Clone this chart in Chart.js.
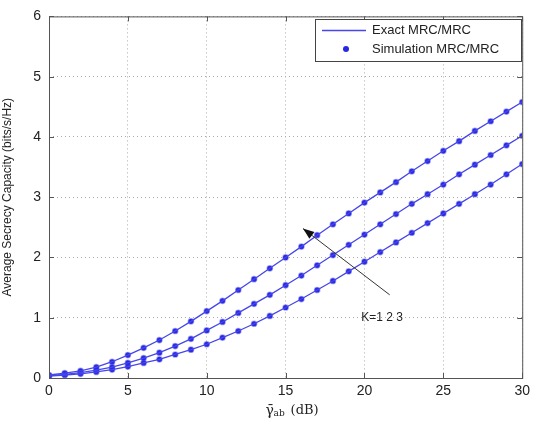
<!DOCTYPE html>
<html>
<head>
<meta charset="utf-8">
<script src="https://cdn.jsdelivr.net/npm/chart.js@4.4.0/dist/chart.umd.min.js"></script>
<style>
  html, body { margin: 0; padding: 0; background: #fff; }
  #wrap { width: 535px; height: 423px; }
</style>
</head>
<body>
<div id="wrap"><canvas id="graph1" width="535" height="423"></canvas></div>
<script>
// x axis: average SNR in dB
const snrDb = [0,1,2,3,4,5,6,7,8,9,10,11,12,13,14,15,16,17,18,19,20,21,22,23,24,25,26,27,28,29,30];

// average secrecy capacity, K = 1, 2, 3
const capK1 = [0.05,0.08,0.12,0.18,0.27,0.38,0.5,0.63,0.78,0.94,1.11,1.28,1.46,1.64,1.82,2.0,2.18,2.37,2.55,2.73,2.91,3.08,3.25,3.43,3.6,3.77,3.93,4.1,4.26,4.42,4.58];
const capK2 = [0.04,0.06,0.09,0.13,0.18,0.25,0.33,0.42,0.53,0.65,0.79,0.93,1.08,1.23,1.38,1.54,1.7,1.87,2.04,2.21,2.38,2.55,2.72,2.89,3.05,3.21,3.38,3.54,3.7,3.86,4.02];
const capK3 = [0.03,0.05,0.07,0.1,0.14,0.19,0.25,0.31,0.39,0.47,0.56,0.67,0.78,0.9,1.03,1.17,1.31,1.46,1.61,1.77,1.93,2.09,2.25,2.41,2.57,2.73,2.89,3.05,3.21,3.38,3.55];

const legendNames = ["Exact MRC/MRC", "Simulation MRC/MRC"];
const xTicks = [0, 5, 10, 15, 20, 25, 30];
const yTicks = [0, 1, 2, 3, 4, 5, 6];

const lineColor = "rgb(70, 70, 235)";
const markColor = "rgb(40, 40, 225)";
const font = "Liberation Sans, Arial, sans-serif";

const pts = (ys) => snrDb.map((x, i) => ({ x, y: ys[i] }));

const exactSet = (ys) => ({
  data: pts(ys),
  borderColor: lineColor,
  borderWidth: 1.3,
  pointRadius: 0,
  fill: false,
  tension: 0,
});
const simSet = (ys) => ({
  data: pts(ys),
  showLine: false,
  pointRadius: 2.6,
  pointStyle: "circle",
  pointBackgroundColor: markColor,
  pointBorderColor: "rgba(60,60,230,0.45)",
  pointBorderWidth: 1.5,
});

// box, inward ticks, legend, arrow, x title
const decorations = {
  id: "decorations",
  afterDraw(chart) {
    const { ctx, chartArea: a, scales } = chart;
    const xs = scales.x, ys = scales.y;
    ctx.save();
    // frame
    ctx.strokeStyle = "#555";
    ctx.lineWidth = 1;
    ctx.strokeRect(a.left + 0.5, a.top + 0.5, a.right - a.left, a.bottom - a.top);
    // inward ticks
    ctx.beginPath();
    xTicks.forEach(v => {
      const p = Math.round(xs.getPixelForValue(v)) + 0.5;
      ctx.moveTo(p, a.bottom); ctx.lineTo(p, a.bottom - 5);
      ctx.moveTo(p, a.top); ctx.lineTo(p, a.top + 5);
    });
    yTicks.forEach(v => {
      const p = Math.round(ys.getPixelForValue(v)) + 0.5;
      ctx.moveTo(a.left, p); ctx.lineTo(a.left + 5, p);
      ctx.moveTo(a.right, p); ctx.lineTo(a.right - 5, p);
    });
    ctx.stroke();

    // legend
    const lx = 315, ly = 19, lw = 206, lh = 42;
    ctx.fillStyle = "#fff";
    ctx.fillRect(lx, ly, lw, lh);
    ctx.strokeStyle = "#444";
    ctx.strokeRect(lx + 0.5, ly + 0.5, lw, lh);
    ctx.strokeStyle = lineColor;
    ctx.lineWidth = 1.3;
    ctx.beginPath(); ctx.moveTo(322, 30.5); ctx.lineTo(366, 30.5); ctx.stroke();
    ctx.fillStyle = markColor;
    ctx.beginPath(); ctx.arc(346, 49, 3, 0, Math.PI * 2); ctx.fill();
    ctx.fillStyle = "#222";
    ctx.font = "13px " + font;
    ctx.textBaseline = "middle";
    ctx.textAlign = "left";
    ctx.fillText(legendNames[0], 372, 30);
    ctx.fillText(legendNames[1], 372, 49);

    // arrow K=1 2 3
    const x0 = xs.getPixelForValue(21.6), y0 = ys.getPixelForValue(1.38);
    const x1 = xs.getPixelForValue(16.1), y1 = ys.getPixelForValue(2.48);
    ctx.strokeStyle = "#333";
    ctx.lineWidth = 1;
    ctx.beginPath(); ctx.moveTo(x0, y0); ctx.lineTo(x1, y1); ctx.stroke();
    const ang = Math.atan2(y1 - y0, x1 - x0);
    ctx.fillStyle = "#111";
    ctx.beginPath();
    ctx.moveTo(x1, y1);
    ctx.lineTo(x1 - 12 * Math.cos(ang - 0.35), y1 - 12 * Math.sin(ang - 0.35));
    ctx.lineTo(x1 - 12 * Math.cos(ang + 0.35), y1 - 12 * Math.sin(ang + 0.35));
    ctx.closePath(); ctx.fill();
    ctx.fillStyle = "#222";
    ctx.font = "12px " + font;
    ctx.textAlign = "left";
    ctx.fillText("K=1 2 3", xs.getPixelForValue(19.8), ys.getPixelForValue(1.0));

    // x axis title: gamma-bar with subscript ab
    const cx = (a.left + a.right) / 2 - 20, ty = 411;
    ctx.font = "14px DejaVu Serif, serif";
    ctx.textAlign = "left";
    ctx.fillText("γ̄", cx, ty);
    ctx.font = "9px DejaVu Serif, serif";
    ctx.fillText("ab", cx + 8, ty + 3);
    ctx.font = "13px DejaVu Serif, serif";
    ctx.fillText("(dB)", cx + 25, ty);
    ctx.restore();
  },
};

new Chart(document.getElementById("graph1"), {
  type: "line",
  data: {
    datasets: [
      exactSet(capK1), exactSet(capK2), exactSet(capK3),
      simSet(capK1), simSet(capK2), simSet(capK3),
    ],
  },
  options: {
    responsive: false,
    animation: false,
    layout: { padding: { left: 0, right: 8, top: 15, bottom: 0 } },
    plugins: { legend: { display: false }, tooltip: { enabled: false } },
    scales: {
      x: {
        type: "linear",
        min: 0,
        max: 30,
        afterBuildTicks: (s) => { s.ticks = xTicks.map(v => ({ value: v })); },
        afterFit: (s) => { s.height = 45; },
        grid: { color: "#aaa", drawTicks: false, lineWidth: 1 },
        border: { display: false, dash: [1, 3] },
        ticks: { color: "#222", font: { family: font, size: 14 }, padding: 5, maxRotation: 0 },
      },
      y: {
        min: 0,
        max: 6,
        afterBuildTicks: (s) => { s.ticks = yTicks.map(v => ({ value: v })); },
        afterFit: (s) => { s.width = 49; },
        grid: { color: "#aaa", drawTicks: false, lineWidth: 1 },
        border: { display: false, dash: [1, 3] },
        ticks: { color: "#222", font: { family: font, size: 14 }, padding: 8 },
        title: {
          display: true,
          text: "Average Secrecy Capacity (bits/s/Hz)",
          color: "#222",
          font: { family: font, size: 12 },
          padding: { top: 0, bottom: 4 },
        },
      },
    },
  },
  plugins: [decorations],
});
</script>
</body>
</html>
